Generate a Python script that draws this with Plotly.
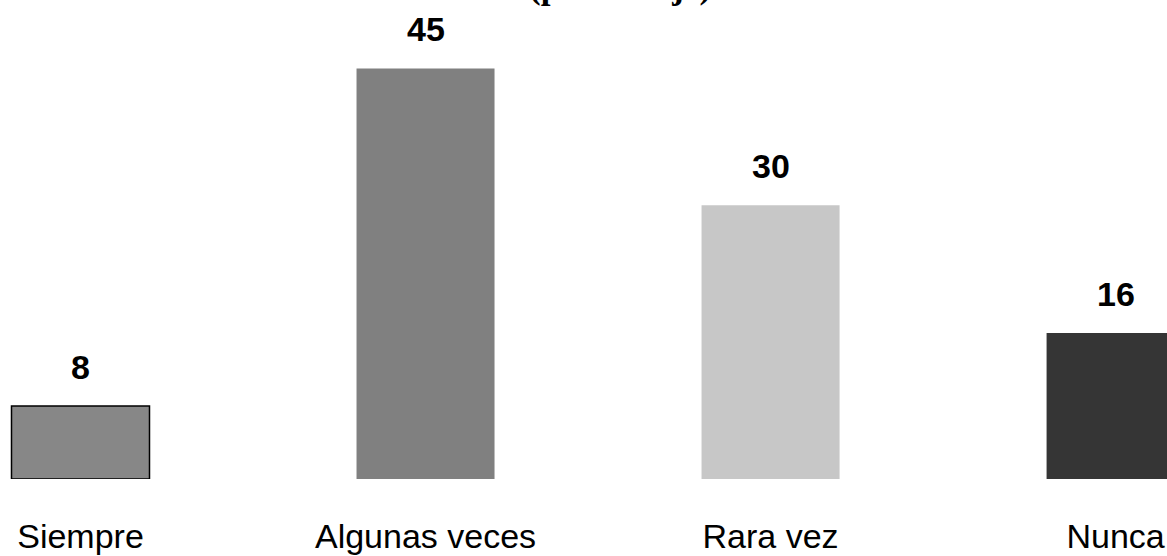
import plotly.graph_objects as go

categories = ["Siempre", "Algunas veces", "Rara vez", "Nunca"]
values = [8, 45, 30, 16]
colors = ["#878787", "#808080", "#C7C7C7", "#353535"]
title_text = "(porcentaje)"

NARROW = "Liberation Sans Narrow, Arial Narrow, Liberation Sans, Arial, sans-serif"

fig = go.Figure()
fig.add_trace(go.Bar(
    x=categories,
    y=values,
    width=0.4,
    marker=dict(color=colors,
                line=dict(color="#000000", width=[1.5, 0, 0, 0])),
    showlegend=False,
    hoverinfo="x+y",
))

for c, v in zip(categories, values):
    fig.add_annotation(
        x=c, y=v, xref="x", yref="y",
        text=f"<b>{v}</b>", showarrow=False,
        yanchor="bottom", yshift=18,
        font=dict(family=NARROW, size=34, color="#000000"),
    )

fig.add_annotation(
    x=0.531, y=1, xref="paper", yref="paper",
    text=f"<b>{title_text}</b>", showarrow=False,
    yanchor="middle", yshift=14,
    font=dict(family="Liberation Serif, Times New Roman, serif", size=35, color="#000000"),
)

fig.update_layout(
    width=1167, height=556,
    margin=dict(l=0, r=0, t=0, b=77),
    paper_bgcolor="#FFFFFF",
    plot_bgcolor="#FFFFFF",
    bargap=0.6,
    xaxis=dict(
        type="category",
        range=[-0.2333, 3.149],
        showline=False, showgrid=False, zeroline=False,
        ticks="", ticklabelstandoff=34,
        tickfont=dict(family=NARROW, size=34, color="#000000"),
    ),
    yaxis=dict(
        range=[0, 52.5],
        visible=False, showgrid=False, zeroline=False,
    ),
)

fig.write_html(
    "out.html",
    config={"displayModeBar": False},
    post_script="document.body.style.margin='0';document.body.style.overflow='hidden';",
)
